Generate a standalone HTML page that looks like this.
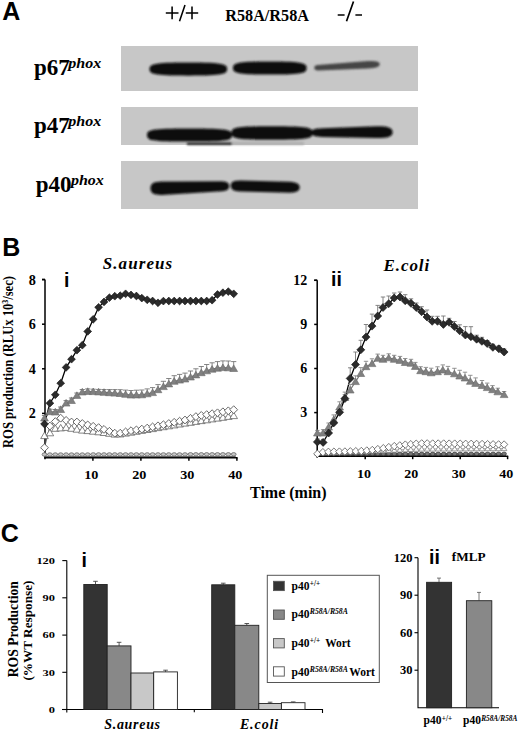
<!DOCTYPE html>
<html><head><meta charset="utf-8"><style>
html,body{margin:0;padding:0;background:#fff;width:520px;height:732px;overflow:hidden}
svg{position:absolute;left:0;top:0;display:block}
</style></head><body>
<svg width="520" height="732" viewBox="0 0 520 732">
<defs><filter id="bl" x="-20%" y="-50%" width="140%" height="200%"><feGaussianBlur stdDeviation="1.3"/></filter><filter id="bl2" x="-20%" y="-50%" width="140%" height="200%"><feGaussianBlur stdDeviation="0.8"/></filter></defs>
<rect x="121" y="46" width="297" height="45" fill="#c7c7c7"/>
<rect x="121" y="107" width="297" height="38" fill="#c7c7c7"/>
<rect x="121" y="161" width="297" height="48" fill="#c7c7c7"/>
<g filter="url(#bl)" fill="#0e0e0e"><path d="M149.5 69.1C149.5 64.3 152.2 62.5 188.3 62.5C224.4 62.5 227.1 64.3 227.1 69.1C227.1 73.9 224.4 75.7 188.3 75.7C152.2 75.7 149.5 73.9 149.5 69.1Z"/><path d="M233.0 68.0C233.0 63.2 235.6 61.4 269.8 61.4C304.0 61.4 306.6 63.2 306.6 68.0C306.6 72.8 304.0 74.6 269.8 74.6C235.6 74.6 233.0 72.8 233.0 68.0Z"/></g>
<g filter="url(#bl2)"><path d="M314.3 67.8 Q314.3 65.3 318 65.1 L368 61.1 Q379.8 60.4 379.8 64.2 Q379.8 67.9 368 68.5 L318 70.5 Q314.3 70.5 314.3 67.8Z" fill="#444"/></g>
<g filter="url(#bl)" fill="#0e0e0e"><path d="M147.0 135.0C147.0 129.7 150.4 128.4 189.5 128.4C228.6 128.4 232.0 129.7 232.0 135.0C232.0 140.3 228.6 141.6 189.5 141.6C150.4 141.6 147.0 140.3 147.0 135.0Z"/><path d="M231.5 133.0C231.5 127.6 234.7 126.3 272.0 126.3C309.3 126.3 312.5 127.6 312.5 133.0C312.5 138.4 309.3 139.7 272.0 139.7C234.7 139.7 231.5 138.4 231.5 133.0Z"/><path d="M311 132.6 C311 129.4 315 128.5 322 128.2 L376 126.3 C388 126 392.6 128 392.6 132.2 C392.6 136.6 388 138.2 376 138.1 L322 136.9 C315 136.7 311 135.8 311 132.6Z"/><rect x="150" y="133" width="40" height="7"/></g>
<g filter="url(#bl2)"><rect x="187" y="142.4" width="45" height="2.6" fill="#2a2a2a"/><rect x="232" y="141.8" width="72" height="3.2" fill="#b0b0b0"/></g>
<g filter="url(#bl)" fill="#0e0e0e"><path d="M150.5 188.3 C150.5 183 154 181.6 162 181.4 L222 181.2 C227.5 181.4 229.2 183.5 229.2 186.2 C229.2 189.3 227 190.8 222 191.3 L162 194.9 C154 195.1 150.5 193.5 150.5 188.3Z"/><path d="M230.8 185.6 C230.8 182 233 180.7 240 180.5 L290 181.8 C297 182.2 299.7 184.5 299.7 187.3 C299.7 190.6 297 192.5 290 192.8 L240 191.6 C233 191.3 230.8 189.2 230.8 185.6Z"/></g>
<text x="2.2" y="19.9" font-family="Liberation Sans" font-size="25" font-weight="bold" font-style="normal" text-anchor="start" >A</text>
<path d="M165.8 13H178.5M172.1 6.5V19.3M185 5L179.5 21.2M185.8 13H198.2M192 6.5V19.3" stroke="#000" stroke-width="1.55" fill="none"/>
<text x="225.3" y="21" font-family="Liberation Serif" font-size="16.2" font-weight="bold" font-style="normal" text-anchor="start" >R58A/R58A</text>
<path d="M337.7 15H344.6M353.5 1.5L346.5 21.2M355.4 15H362" stroke="#000" stroke-width="1.7" fill="none"/>
<text x="34" y="74.6" font-family="Liberation Serif" font-size="23" font-weight="bold">p67</text>
<text x="68.2" y="68.2" font-family="Liberation Serif" font-size="14" font-weight="bold" font-style="italic" textLength="33" lengthAdjust="spacingAndGlyphs">phox</text>
<text x="34" y="132.8" font-family="Liberation Serif" font-size="23" font-weight="bold">p47</text>
<text x="68.2" y="126.2" font-family="Liberation Serif" font-size="14" font-weight="bold" font-style="italic" textLength="33" lengthAdjust="spacingAndGlyphs">phox</text>
<text x="35.8" y="192.4" font-family="Liberation Serif" font-size="23" font-weight="bold">p40</text>
<text x="70.9" y="184.9" font-family="Liberation Serif" font-size="14" font-weight="bold" font-style="italic" textLength="33" lengthAdjust="spacingAndGlyphs">phox</text>
<text x="2.2" y="256.2" font-family="Liberation Sans" font-size="25" font-weight="bold" font-style="normal" text-anchor="start" >B</text>
<path d="M45 279.6V459.3M42 279.6H45" stroke="#000" stroke-width="1.5" fill="none"/>
<path d="M42 279.6H45" stroke="#000" stroke-width="1.5"/>
<text x="35.9" y="284.6" font-family="Liberation Serif" font-size="14.2" font-weight="bold" font-style="normal" text-anchor="end" >8</text>
<path d="M42 324.2H45" stroke="#000" stroke-width="1.5"/>
<text x="35.9" y="329.20000000000005" font-family="Liberation Serif" font-size="14.2" font-weight="bold" font-style="normal" text-anchor="end" >6</text>
<path d="M42 368.8H45" stroke="#000" stroke-width="1.5"/>
<text x="35.9" y="373.8" font-family="Liberation Serif" font-size="14.2" font-weight="bold" font-style="normal" text-anchor="end" >4</text>
<path d="M42 413.4H45" stroke="#000" stroke-width="1.5"/>
<text x="35.9" y="418.40000000000003" font-family="Liberation Serif" font-size="14.2" font-weight="bold" font-style="normal" text-anchor="end" >2</text>
<path d="M44.3 457.8H237.6" stroke="#000" stroke-width="1.5"/>
<path d="M92.9 457.8V460.8" stroke="#000" stroke-width="1.5"/>
<text x="84.2" y="478.9" font-family="Liberation Serif" font-size="12" font-weight="bold" textLength="14.2" lengthAdjust="spacingAndGlyphs">10</text>
<path d="M140.9 457.8V460.8" stroke="#000" stroke-width="1.5"/>
<text x="132.2" y="478.9" font-family="Liberation Serif" font-size="12" font-weight="bold" textLength="14.2" lengthAdjust="spacingAndGlyphs">20</text>
<path d="M188.9 457.8V460.8" stroke="#000" stroke-width="1.5"/>
<text x="180.2" y="478.9" font-family="Liberation Serif" font-size="12" font-weight="bold" textLength="14.2" lengthAdjust="spacingAndGlyphs">30</text>
<path d="M236.9 457.8V460.8" stroke="#000" stroke-width="1.5"/>
<text x="228.2" y="478.9" font-family="Liberation Serif" font-size="12" font-weight="bold" textLength="14.2" lengthAdjust="spacingAndGlyphs">40</text>
<text x="64" y="287.2" font-family="Liberation Sans" font-size="19.5" font-weight="bold" font-style="normal" text-anchor="start" >i</text>
<text x="138" y="268.5" font-family="Liberation Serif" font-size="17" font-weight="bold" font-style="italic" text-anchor="middle" letter-spacing="1.1">S.aureus</text>
<text transform="translate(12.9,448) rotate(-90)" font-family="Liberation Serif" font-size="13.6" font-weight="bold" textLength="172" lengthAdjust="spacingAndGlyphs">ROS production (RLUx 10<tspan font-size="8.5" dy="-4.5">3</tspan><tspan dy="4.5">/sec)</tspan></text>
<path d="M317.2 280.3V457.7M314.2 280.3H317.2" stroke="#000" stroke-width="1.5" fill="none"/>
<path d="M314.2 280.3H317.2" stroke="#000" stroke-width="1.5"/>
<text x="307.3" y="285.1" font-family="Liberation Serif" font-size="14" font-weight="bold" font-style="normal" text-anchor="end" >12</text>
<path d="M314.2 324.4H317.2" stroke="#000" stroke-width="1.5"/>
<text x="307.3" y="329.20000000000005" font-family="Liberation Serif" font-size="14" font-weight="bold" font-style="normal" text-anchor="end" >9</text>
<path d="M314.2 368.5H317.2" stroke="#000" stroke-width="1.5"/>
<text x="307.3" y="373.3" font-family="Liberation Serif" font-size="14" font-weight="bold" font-style="normal" text-anchor="end" >6</text>
<path d="M314.2 412.6H317.2" stroke="#000" stroke-width="1.5"/>
<text x="307.3" y="417.40000000000003" font-family="Liberation Serif" font-size="14" font-weight="bold" font-style="normal" text-anchor="end" >3</text>
<path d="M316.5 456.2H508.2" stroke="#000" stroke-width="1.5"/>
<path d="M365.2 456.2V459.2" stroke="#000" stroke-width="1.5"/>
<text x="356.9" y="477.8" font-family="Liberation Serif" font-size="11.6" font-weight="bold" textLength="14" lengthAdjust="spacingAndGlyphs">10</text>
<path d="M412.7 456.2V459.2" stroke="#000" stroke-width="1.5"/>
<text x="404.3" y="477.8" font-family="Liberation Serif" font-size="11.6" font-weight="bold" textLength="14" lengthAdjust="spacingAndGlyphs">20</text>
<path d="M460.2 456.2V459.2" stroke="#000" stroke-width="1.5"/>
<text x="451.8" y="477.8" font-family="Liberation Serif" font-size="11.6" font-weight="bold" textLength="14" lengthAdjust="spacingAndGlyphs">30</text>
<path d="M507.6 456.2V459.2" stroke="#000" stroke-width="1.5"/>
<text x="499.2" y="477.8" font-family="Liberation Serif" font-size="11.6" font-weight="bold" textLength="14" lengthAdjust="spacingAndGlyphs">40</text>
<text x="331" y="285.8" font-family="Liberation Sans" font-size="19.5" font-weight="bold" font-style="normal" text-anchor="start" >ii</text>
<text x="406.8" y="271.2" font-family="Liberation Serif" font-size="17" font-weight="bold" font-style="italic" text-anchor="middle" letter-spacing="0.9">E.coli</text>
<text x="288.3" y="498" font-family="Liberation Serif" font-size="16" font-weight="bold" font-style="normal" text-anchor="middle" >Time (min)</text>
<polyline points="44.5,456.6 235.7,456.6" fill="none" stroke="#555" stroke-width="1.0" />
<polyline points="44.5,454.5 49.9,454.5 55.3,454.5 60.7,454.5 66.1,454.5 71.5,454.5 76.9,454.5 82.3,454.5 87.7,454.5 93.2,454.4 98.6,454.4 104.0,454.4 109.4,454.4 114.8,454.4 120.2,454.4 125.6,454.4 131.0,454.4 136.4,454.4 141.8,454.4 147.2,454.4 152.6,454.4 158.0,454.4 163.4,454.4 168.8,454.4 174.2,454.4 179.6,454.4 185.0,454.4 190.5,454.3 195.9,454.3 201.3,454.3 206.7,454.3 212.1,454.3 217.5,454.3 222.9,454.3 228.3,454.3 233.7,454.3" fill="none" stroke="#666" stroke-width="0.9" />
<polyline points="44.5,435.7 49.9,432.9 55.3,428.4 60.7,428.0 66.1,427.5 71.5,428.4 76.9,429.3 82.3,430.2 87.7,430.7 93.2,431.3 98.6,431.9 104.0,432.6 109.4,433.4 114.8,434.2 120.2,434.0 125.6,433.2 131.0,432.3 136.4,431.4 141.8,430.5 147.2,429.6 152.6,428.7 158.0,427.7 163.4,426.8 168.8,425.9 174.2,425.0 179.6,424.1 185.0,423.2 190.5,422.4 195.9,421.5 201.3,420.7 206.7,419.9 212.1,419.0 217.5,418.2 222.9,417.4 228.3,416.5 233.7,415.7" fill="none" stroke="#888" stroke-width="0.9" />
<polyline points="44.5,447.7 49.9,426.0 55.3,421.6 60.7,418.2 66.1,420.4 71.5,422.0 76.9,422.0 82.3,423.5 87.7,424.9 93.2,426.3 98.6,427.6 104.0,429.4 109.4,431.3 114.8,433.2 120.2,433.2 125.6,431.9 131.0,430.7 136.4,429.9 141.8,429.1 147.2,428.1 152.6,426.9 158.0,425.8 163.4,424.7 168.8,423.5 174.2,422.3 179.6,421.2 185.0,420.0 190.5,418.3 195.9,416.6 201.3,415.4 206.7,414.6 212.1,413.7 217.5,412.8 222.9,411.8 228.3,410.8 233.7,409.7" fill="none" stroke="#555" stroke-width="0.9" />
<polyline points="44.5,418.0 49.9,411.7 55.3,412.0 60.7,409.5 66.1,403.1 71.5,400.5 76.9,395.5 82.3,392.0 87.7,391.4 93.2,391.7 98.6,391.9 104.0,392.3 109.4,392.7 114.8,393.1 120.2,393.5 125.6,394.3 131.0,395.0 136.4,394.9 141.8,394.8 147.2,393.8 152.6,392.6 158.0,389.8 163.4,386.6 168.8,383.9 174.2,381.3 179.6,380.1 185.0,379.0 190.5,377.0 195.9,374.9 201.3,372.7 206.7,370.8 212.1,369.2 217.5,368.2 222.9,367.6 228.3,367.8 233.7,368.5" fill="none" stroke="#777" stroke-width="1.2" />
<polyline points="44.5,424.0 49.9,403.2 55.3,394.8 60.7,383.2 66.1,367.4 71.5,359.2 76.9,350.2 82.3,345.2 87.7,331.4 93.2,319.3 98.6,307.3 104.0,301.9 109.4,297.7 114.8,296.2 120.2,295.7 125.6,293.8 131.0,294.9 136.4,296.0 141.8,298.1 147.2,299.8 152.6,301.0 158.0,302.8 163.4,301.1 168.8,301.0 174.2,301.0 179.6,301.0 185.0,301.0 190.5,301.0 195.9,301.0 201.3,301.0 206.7,301.0 212.1,300.2 217.5,294.5 222.9,292.7 228.3,291.6 233.7,293.8" fill="none" stroke="#000" stroke-width="1.3" />
<ellipse cx="44.5" cy="454.5" rx="2.4" ry="1.7" fill="#c8c8c8" stroke="#666" stroke-width="0.8"/>
<ellipse cx="49.9" cy="454.5" rx="2.4" ry="1.7" fill="#c8c8c8" stroke="#666" stroke-width="0.8"/>
<ellipse cx="55.3" cy="454.5" rx="2.4" ry="1.7" fill="#c8c8c8" stroke="#666" stroke-width="0.8"/>
<ellipse cx="60.7" cy="454.5" rx="2.4" ry="1.7" fill="#c8c8c8" stroke="#666" stroke-width="0.8"/>
<ellipse cx="66.1" cy="454.5" rx="2.4" ry="1.7" fill="#c8c8c8" stroke="#666" stroke-width="0.8"/>
<ellipse cx="71.5" cy="454.5" rx="2.4" ry="1.7" fill="#c8c8c8" stroke="#666" stroke-width="0.8"/>
<ellipse cx="76.9" cy="454.5" rx="2.4" ry="1.7" fill="#c8c8c8" stroke="#666" stroke-width="0.8"/>
<ellipse cx="82.3" cy="454.5" rx="2.4" ry="1.7" fill="#c8c8c8" stroke="#666" stroke-width="0.8"/>
<ellipse cx="87.7" cy="454.5" rx="2.4" ry="1.7" fill="#c8c8c8" stroke="#666" stroke-width="0.8"/>
<ellipse cx="93.2" cy="454.4" rx="2.4" ry="1.7" fill="#c8c8c8" stroke="#666" stroke-width="0.8"/>
<ellipse cx="98.6" cy="454.4" rx="2.4" ry="1.7" fill="#c8c8c8" stroke="#666" stroke-width="0.8"/>
<ellipse cx="104.0" cy="454.4" rx="2.4" ry="1.7" fill="#c8c8c8" stroke="#666" stroke-width="0.8"/>
<ellipse cx="109.4" cy="454.4" rx="2.4" ry="1.7" fill="#c8c8c8" stroke="#666" stroke-width="0.8"/>
<ellipse cx="114.8" cy="454.4" rx="2.4" ry="1.7" fill="#c8c8c8" stroke="#666" stroke-width="0.8"/>
<ellipse cx="120.2" cy="454.4" rx="2.4" ry="1.7" fill="#c8c8c8" stroke="#666" stroke-width="0.8"/>
<ellipse cx="125.6" cy="454.4" rx="2.4" ry="1.7" fill="#c8c8c8" stroke="#666" stroke-width="0.8"/>
<ellipse cx="131.0" cy="454.4" rx="2.4" ry="1.7" fill="#c8c8c8" stroke="#666" stroke-width="0.8"/>
<ellipse cx="136.4" cy="454.4" rx="2.4" ry="1.7" fill="#c8c8c8" stroke="#666" stroke-width="0.8"/>
<ellipse cx="141.8" cy="454.4" rx="2.4" ry="1.7" fill="#c8c8c8" stroke="#666" stroke-width="0.8"/>
<ellipse cx="147.2" cy="454.4" rx="2.4" ry="1.7" fill="#c8c8c8" stroke="#666" stroke-width="0.8"/>
<ellipse cx="152.6" cy="454.4" rx="2.4" ry="1.7" fill="#c8c8c8" stroke="#666" stroke-width="0.8"/>
<ellipse cx="158.0" cy="454.4" rx="2.4" ry="1.7" fill="#c8c8c8" stroke="#666" stroke-width="0.8"/>
<ellipse cx="163.4" cy="454.4" rx="2.4" ry="1.7" fill="#c8c8c8" stroke="#666" stroke-width="0.8"/>
<ellipse cx="168.8" cy="454.4" rx="2.4" ry="1.7" fill="#c8c8c8" stroke="#666" stroke-width="0.8"/>
<ellipse cx="174.2" cy="454.4" rx="2.4" ry="1.7" fill="#c8c8c8" stroke="#666" stroke-width="0.8"/>
<ellipse cx="179.6" cy="454.4" rx="2.4" ry="1.7" fill="#c8c8c8" stroke="#666" stroke-width="0.8"/>
<ellipse cx="185.0" cy="454.4" rx="2.4" ry="1.7" fill="#c8c8c8" stroke="#666" stroke-width="0.8"/>
<ellipse cx="190.5" cy="454.3" rx="2.4" ry="1.7" fill="#c8c8c8" stroke="#666" stroke-width="0.8"/>
<ellipse cx="195.9" cy="454.3" rx="2.4" ry="1.7" fill="#c8c8c8" stroke="#666" stroke-width="0.8"/>
<ellipse cx="201.3" cy="454.3" rx="2.4" ry="1.7" fill="#c8c8c8" stroke="#666" stroke-width="0.8"/>
<ellipse cx="206.7" cy="454.3" rx="2.4" ry="1.7" fill="#c8c8c8" stroke="#666" stroke-width="0.8"/>
<ellipse cx="212.1" cy="454.3" rx="2.4" ry="1.7" fill="#c8c8c8" stroke="#666" stroke-width="0.8"/>
<ellipse cx="217.5" cy="454.3" rx="2.4" ry="1.7" fill="#c8c8c8" stroke="#666" stroke-width="0.8"/>
<ellipse cx="222.9" cy="454.3" rx="2.4" ry="1.7" fill="#c8c8c8" stroke="#666" stroke-width="0.8"/>
<ellipse cx="228.3" cy="454.3" rx="2.4" ry="1.7" fill="#c8c8c8" stroke="#666" stroke-width="0.8"/>
<ellipse cx="233.7" cy="454.3" rx="2.4" ry="1.7" fill="#c8c8c8" stroke="#666" stroke-width="0.8"/>
<path d="M44.5 432.1L48.3 438.6L40.7 438.6Z" fill="#fff" stroke="#666" stroke-width="0.8"/>
<path d="M49.9 429.4L53.7 435.8L46.1 435.8Z" fill="#fff" stroke="#666" stroke-width="0.8"/>
<path d="M55.3 424.9L59.1 431.3L51.5 431.3Z" fill="#fff" stroke="#666" stroke-width="0.8"/>
<path d="M60.7 424.4L64.5 430.9L56.9 430.9Z" fill="#fff" stroke="#666" stroke-width="0.8"/>
<path d="M66.1 424.0L69.9 430.4L62.3 430.4Z" fill="#fff" stroke="#666" stroke-width="0.8"/>
<path d="M71.5 424.8L75.3 431.3L67.7 431.3Z" fill="#fff" stroke="#666" stroke-width="0.8"/>
<path d="M76.9 425.7L80.7 432.2L73.1 432.2Z" fill="#fff" stroke="#666" stroke-width="0.8"/>
<path d="M82.3 426.6L86.1 433.1L78.5 433.1Z" fill="#fff" stroke="#666" stroke-width="0.8"/>
<path d="M87.7 427.2L91.5 433.6L83.9 433.6Z" fill="#fff" stroke="#666" stroke-width="0.8"/>
<path d="M93.2 427.7L97.0 434.2L89.4 434.2Z" fill="#fff" stroke="#666" stroke-width="0.8"/>
<path d="M98.6 428.3L102.4 434.8L94.8 434.8Z" fill="#fff" stroke="#666" stroke-width="0.8"/>
<path d="M104.0 429.0L107.8 435.5L100.2 435.5Z" fill="#fff" stroke="#666" stroke-width="0.8"/>
<path d="M109.4 429.8L113.2 436.3L105.6 436.3Z" fill="#fff" stroke="#666" stroke-width="0.8"/>
<path d="M114.8 430.6L118.6 437.1L111.0 437.1Z" fill="#fff" stroke="#666" stroke-width="0.8"/>
<path d="M120.2 430.5L124.0 436.9L116.4 436.9Z" fill="#fff" stroke="#666" stroke-width="0.8"/>
<path d="M125.6 429.6L129.4 436.1L121.8 436.1Z" fill="#fff" stroke="#666" stroke-width="0.8"/>
<path d="M131.0 428.8L134.8 435.2L127.2 435.2Z" fill="#fff" stroke="#666" stroke-width="0.8"/>
<path d="M136.4 427.9L140.2 434.3L132.6 434.3Z" fill="#fff" stroke="#666" stroke-width="0.8"/>
<path d="M141.8 426.9L145.6 433.4L138.0 433.4Z" fill="#fff" stroke="#666" stroke-width="0.8"/>
<path d="M147.2 426.0L151.0 432.5L143.4 432.5Z" fill="#fff" stroke="#666" stroke-width="0.8"/>
<path d="M152.6 425.1L156.4 431.6L148.8 431.6Z" fill="#fff" stroke="#666" stroke-width="0.8"/>
<path d="M158.0 424.2L161.8 430.6L154.2 430.6Z" fill="#fff" stroke="#666" stroke-width="0.8"/>
<path d="M163.4 423.3L167.2 429.7L159.6 429.7Z" fill="#fff" stroke="#666" stroke-width="0.8"/>
<path d="M168.8 422.4L172.6 428.8L165.0 428.8Z" fill="#fff" stroke="#666" stroke-width="0.8"/>
<path d="M174.2 421.4L178.0 427.9L170.4 427.9Z" fill="#fff" stroke="#666" stroke-width="0.8"/>
<path d="M179.6 420.5L183.4 427.0L175.8 427.0Z" fill="#fff" stroke="#666" stroke-width="0.8"/>
<path d="M185.0 419.6L188.8 426.1L181.2 426.1Z" fill="#fff" stroke="#666" stroke-width="0.8"/>
<path d="M190.5 418.8L194.3 425.3L186.7 425.3Z" fill="#fff" stroke="#666" stroke-width="0.8"/>
<path d="M195.9 418.0L199.7 424.4L192.1 424.4Z" fill="#fff" stroke="#666" stroke-width="0.8"/>
<path d="M201.3 417.1L205.1 423.6L197.5 423.6Z" fill="#fff" stroke="#666" stroke-width="0.8"/>
<path d="M206.7 416.3L210.5 422.8L202.9 422.8Z" fill="#fff" stroke="#666" stroke-width="0.8"/>
<path d="M212.1 415.5L215.9 421.9L208.3 421.9Z" fill="#fff" stroke="#666" stroke-width="0.8"/>
<path d="M217.5 414.6L221.3 421.1L213.7 421.1Z" fill="#fff" stroke="#666" stroke-width="0.8"/>
<path d="M222.9 413.8L226.7 420.3L219.1 420.3Z" fill="#fff" stroke="#666" stroke-width="0.8"/>
<path d="M228.3 413.0L232.1 419.4L224.5 419.4Z" fill="#fff" stroke="#666" stroke-width="0.8"/>
<path d="M233.7 412.1L237.5 418.6L229.9 418.6Z" fill="#fff" stroke="#666" stroke-width="0.8"/>
<path d="M44.5 443.8L48.4 447.7L44.5 451.6L40.6 447.7Z" fill="#fff" stroke="#444" stroke-width="0.8"/>
<path d="M49.9 422.1L53.8 426.0L49.9 429.9L46.0 426.0Z" fill="#fff" stroke="#444" stroke-width="0.8"/>
<path d="M55.3 417.7L59.2 421.6L55.3 425.5L51.4 421.6Z" fill="#fff" stroke="#444" stroke-width="0.8"/>
<path d="M60.7 414.3L64.6 418.2L60.7 422.1L56.8 418.2Z" fill="#fff" stroke="#444" stroke-width="0.8"/>
<path d="M66.1 416.5L70.0 420.4L66.1 424.3L62.2 420.4Z" fill="#fff" stroke="#444" stroke-width="0.8"/>
<path d="M71.5 418.1L75.4 422.0L71.5 425.9L67.6 422.0Z" fill="#fff" stroke="#444" stroke-width="0.8"/>
<path d="M76.9 418.1L80.8 422.0L76.9 425.9L73.0 422.0Z" fill="#fff" stroke="#444" stroke-width="0.8"/>
<path d="M82.3 419.6L86.2 423.5L82.3 427.4L78.4 423.5Z" fill="#fff" stroke="#444" stroke-width="0.8"/>
<path d="M87.7 421.0L91.6 424.9L87.7 428.8L83.8 424.9Z" fill="#fff" stroke="#444" stroke-width="0.8"/>
<path d="M93.2 422.4L97.1 426.3L93.2 430.2L89.3 426.3Z" fill="#fff" stroke="#444" stroke-width="0.8"/>
<path d="M98.6 423.7L102.5 427.6L98.6 431.5L94.7 427.6Z" fill="#fff" stroke="#444" stroke-width="0.8"/>
<path d="M104.0 425.5L107.9 429.4L104.0 433.3L100.1 429.4Z" fill="#fff" stroke="#444" stroke-width="0.8"/>
<path d="M109.4 427.4L113.3 431.3L109.4 435.2L105.5 431.3Z" fill="#fff" stroke="#444" stroke-width="0.8"/>
<path d="M114.8 429.3L118.7 433.2L114.8 437.1L110.9 433.2Z" fill="#fff" stroke="#444" stroke-width="0.8"/>
<path d="M120.2 429.3L124.1 433.2L120.2 437.1L116.3 433.2Z" fill="#fff" stroke="#444" stroke-width="0.8"/>
<path d="M125.6 428.0L129.5 431.9L125.6 435.8L121.7 431.9Z" fill="#fff" stroke="#444" stroke-width="0.8"/>
<path d="M131.0 426.8L134.9 430.7L131.0 434.6L127.1 430.7Z" fill="#fff" stroke="#444" stroke-width="0.8"/>
<path d="M136.4 426.0L140.3 429.9L136.4 433.8L132.5 429.9Z" fill="#fff" stroke="#444" stroke-width="0.8"/>
<path d="M141.8 425.2L145.7 429.1L141.8 433.0L137.9 429.1Z" fill="#fff" stroke="#444" stroke-width="0.8"/>
<path d="M147.2 424.2L151.1 428.1L147.2 432.0L143.3 428.1Z" fill="#fff" stroke="#444" stroke-width="0.8"/>
<path d="M152.6 423.0L156.5 426.9L152.6 430.8L148.7 426.9Z" fill="#fff" stroke="#444" stroke-width="0.8"/>
<path d="M158.0 421.9L161.9 425.8L158.0 429.7L154.1 425.8Z" fill="#fff" stroke="#444" stroke-width="0.8"/>
<path d="M163.4 420.8L167.3 424.7L163.4 428.6L159.5 424.7Z" fill="#fff" stroke="#444" stroke-width="0.8"/>
<path d="M168.8 419.6L172.7 423.5L168.8 427.4L164.9 423.5Z" fill="#fff" stroke="#444" stroke-width="0.8"/>
<path d="M174.2 418.4L178.1 422.3L174.2 426.2L170.3 422.3Z" fill="#fff" stroke="#444" stroke-width="0.8"/>
<path d="M179.6 417.3L183.5 421.2L179.6 425.1L175.7 421.2Z" fill="#fff" stroke="#444" stroke-width="0.8"/>
<path d="M185.0 416.1L188.9 420.0L185.0 423.9L181.1 420.0Z" fill="#fff" stroke="#444" stroke-width="0.8"/>
<path d="M190.5 414.4L194.4 418.3L190.5 422.2L186.6 418.3Z" fill="#fff" stroke="#444" stroke-width="0.8"/>
<path d="M195.9 412.7L199.8 416.6L195.9 420.5L192.0 416.6Z" fill="#fff" stroke="#444" stroke-width="0.8"/>
<path d="M201.3 411.5L205.2 415.4L201.3 419.3L197.4 415.4Z" fill="#fff" stroke="#444" stroke-width="0.8"/>
<path d="M206.7 410.7L210.6 414.6L206.7 418.5L202.8 414.6Z" fill="#fff" stroke="#444" stroke-width="0.8"/>
<path d="M212.1 409.8L216.0 413.7L212.1 417.6L208.2 413.7Z" fill="#fff" stroke="#444" stroke-width="0.8"/>
<path d="M217.5 408.9L221.4 412.8L217.5 416.7L213.6 412.8Z" fill="#fff" stroke="#444" stroke-width="0.8"/>
<path d="M222.9 407.9L226.8 411.8L222.9 415.7L219.0 411.8Z" fill="#fff" stroke="#444" stroke-width="0.8"/>
<path d="M228.3 406.9L232.2 410.8L228.3 414.7L224.4 410.8Z" fill="#fff" stroke="#444" stroke-width="0.8"/>
<path d="M233.7 405.8L237.6 409.7L233.7 413.6L229.8 409.7Z" fill="#fff" stroke="#444" stroke-width="0.8"/>
<path d="M44.5 417.0V415.5M41.9 415.5H47.1" stroke="#777" stroke-width="0.9" fill="none"/>
<path d="M49.9 410.7V409.2M47.3 409.2H52.5" stroke="#777" stroke-width="0.9" fill="none"/>
<path d="M55.3 411.0V409.5M52.7 409.5H57.9" stroke="#777" stroke-width="0.9" fill="none"/>
<path d="M60.7 408.5V407.0M58.1 407.0H63.3" stroke="#777" stroke-width="0.9" fill="none"/>
<path d="M66.1 402.1V400.6M63.5 400.6H68.7" stroke="#777" stroke-width="0.9" fill="none"/>
<path d="M71.5 399.5V398.0M68.9 398.0H74.1" stroke="#777" stroke-width="0.9" fill="none"/>
<path d="M76.9 394.5V393.0M74.3 393.0H79.5" stroke="#777" stroke-width="0.9" fill="none"/>
<path d="M82.3 391.0V389.5M79.7 389.5H84.9" stroke="#777" stroke-width="0.9" fill="none"/>
<path d="M87.7 390.4V388.9M85.1 388.9H90.3" stroke="#777" stroke-width="0.9" fill="none"/>
<path d="M93.2 390.7V389.2M90.6 389.2H95.8" stroke="#777" stroke-width="0.9" fill="none"/>
<path d="M98.6 390.9V389.4M96.0 389.4H101.2" stroke="#777" stroke-width="0.9" fill="none"/>
<path d="M104.0 391.3V389.5M101.4 389.5H106.6" stroke="#777" stroke-width="0.9" fill="none"/>
<path d="M109.4 391.7V389.6M106.8 389.6H112.0" stroke="#777" stroke-width="0.9" fill="none"/>
<path d="M114.8 392.1V389.6M112.2 389.6H117.4" stroke="#777" stroke-width="0.9" fill="none"/>
<path d="M120.2 392.5V389.7M117.6 389.7H122.8" stroke="#777" stroke-width="0.9" fill="none"/>
<path d="M125.6 393.3V390.1M123.0 390.1H128.2" stroke="#777" stroke-width="0.9" fill="none"/>
<path d="M131.0 394.0V390.5M128.4 390.5H133.6" stroke="#777" stroke-width="0.9" fill="none"/>
<path d="M136.4 393.9V390.2M133.8 390.2H139.0" stroke="#777" stroke-width="0.9" fill="none"/>
<path d="M141.8 393.8V390.0M139.2 390.0H144.4" stroke="#777" stroke-width="0.9" fill="none"/>
<path d="M147.2 392.8V388.9M144.6 388.9H149.8" stroke="#777" stroke-width="0.9" fill="none"/>
<path d="M152.6 391.6V387.6M150.0 387.6H155.2" stroke="#777" stroke-width="0.9" fill="none"/>
<path d="M158.0 388.8V384.6M155.4 384.6H160.6" stroke="#777" stroke-width="0.9" fill="none"/>
<path d="M163.4 385.6V381.3M160.8 381.3H166.0" stroke="#777" stroke-width="0.9" fill="none"/>
<path d="M168.8 382.9V378.5M166.2 378.5H171.4" stroke="#777" stroke-width="0.9" fill="none"/>
<path d="M174.2 380.3V375.7M171.6 375.7H176.8" stroke="#777" stroke-width="0.9" fill="none"/>
<path d="M179.6 379.1V374.4M177.0 374.4H182.2" stroke="#777" stroke-width="0.9" fill="none"/>
<path d="M185.0 378.0V373.1M182.4 373.1H187.6" stroke="#777" stroke-width="0.9" fill="none"/>
<path d="M190.5 376.0V371.0M187.9 371.0H193.1" stroke="#777" stroke-width="0.9" fill="none"/>
<path d="M195.9 373.9V368.8M193.3 368.8H198.5" stroke="#777" stroke-width="0.9" fill="none"/>
<path d="M201.3 371.7V366.5M198.7 366.5H203.9" stroke="#777" stroke-width="0.9" fill="none"/>
<path d="M206.7 369.8V364.5M204.1 364.5H209.3" stroke="#777" stroke-width="0.9" fill="none"/>
<path d="M212.1 368.2V362.8M209.5 362.8H214.7" stroke="#777" stroke-width="0.9" fill="none"/>
<path d="M217.5 367.2V361.6M214.9 361.6H220.1" stroke="#777" stroke-width="0.9" fill="none"/>
<path d="M222.9 366.6V360.9M220.3 360.9H225.5" stroke="#777" stroke-width="0.9" fill="none"/>
<path d="M228.3 366.8V361.0M225.7 361.0H230.9" stroke="#777" stroke-width="0.9" fill="none"/>
<path d="M233.7 367.5V361.6M231.1 361.6H236.3" stroke="#777" stroke-width="0.9" fill="none"/>
<path d="M44.5 414.4L48.4 421.0L40.6 421.0Z" fill="#808080" stroke="#6a6a6a" stroke-width="0.6"/>
<path d="M49.9 408.1L53.8 414.7L46.0 414.7Z" fill="#808080" stroke="#6a6a6a" stroke-width="0.6"/>
<path d="M55.3 408.3L59.2 415.0L51.4 415.0Z" fill="#808080" stroke="#6a6a6a" stroke-width="0.6"/>
<path d="M60.7 405.8L64.6 412.5L56.8 412.5Z" fill="#808080" stroke="#6a6a6a" stroke-width="0.6"/>
<path d="M66.1 399.4L70.0 406.1L62.2 406.1Z" fill="#808080" stroke="#6a6a6a" stroke-width="0.6"/>
<path d="M71.5 396.9L75.4 403.5L67.6 403.5Z" fill="#808080" stroke="#6a6a6a" stroke-width="0.6"/>
<path d="M76.9 391.8L80.8 398.4L73.0 398.4Z" fill="#808080" stroke="#6a6a6a" stroke-width="0.6"/>
<path d="M82.3 388.3L86.2 395.0L78.4 395.0Z" fill="#808080" stroke="#6a6a6a" stroke-width="0.6"/>
<path d="M87.7 387.8L91.6 394.4L83.8 394.4Z" fill="#808080" stroke="#6a6a6a" stroke-width="0.6"/>
<path d="M93.2 388.0L97.1 394.6L89.3 394.6Z" fill="#808080" stroke="#6a6a6a" stroke-width="0.6"/>
<path d="M98.6 388.3L102.5 394.9L94.7 394.9Z" fill="#808080" stroke="#6a6a6a" stroke-width="0.6"/>
<path d="M104.0 388.7L107.9 395.3L100.1 395.3Z" fill="#808080" stroke="#6a6a6a" stroke-width="0.6"/>
<path d="M109.4 389.1L113.3 395.7L105.5 395.7Z" fill="#808080" stroke="#6a6a6a" stroke-width="0.6"/>
<path d="M114.8 389.5L118.7 396.1L110.9 396.1Z" fill="#808080" stroke="#6a6a6a" stroke-width="0.6"/>
<path d="M120.2 389.9L124.1 396.5L116.3 396.5Z" fill="#808080" stroke="#6a6a6a" stroke-width="0.6"/>
<path d="M125.6 390.7L129.5 397.3L121.7 397.3Z" fill="#808080" stroke="#6a6a6a" stroke-width="0.6"/>
<path d="M131.0 391.3L134.9 398.0L127.1 398.0Z" fill="#808080" stroke="#6a6a6a" stroke-width="0.6"/>
<path d="M136.4 391.3L140.3 397.9L132.5 397.9Z" fill="#808080" stroke="#6a6a6a" stroke-width="0.6"/>
<path d="M141.8 391.2L145.7 397.8L137.9 397.8Z" fill="#808080" stroke="#6a6a6a" stroke-width="0.6"/>
<path d="M147.2 390.2L151.1 396.8L143.3 396.8Z" fill="#808080" stroke="#6a6a6a" stroke-width="0.6"/>
<path d="M152.6 389.0L156.5 395.6L148.7 395.6Z" fill="#808080" stroke="#6a6a6a" stroke-width="0.6"/>
<path d="M158.0 386.1L161.9 392.7L154.1 392.7Z" fill="#808080" stroke="#6a6a6a" stroke-width="0.6"/>
<path d="M163.4 383.0L167.3 389.6L159.5 389.6Z" fill="#808080" stroke="#6a6a6a" stroke-width="0.6"/>
<path d="M168.8 380.3L172.7 386.9L164.9 386.9Z" fill="#808080" stroke="#6a6a6a" stroke-width="0.6"/>
<path d="M174.2 377.6L178.1 384.3L170.3 384.3Z" fill="#808080" stroke="#6a6a6a" stroke-width="0.6"/>
<path d="M179.6 376.5L183.5 383.1L175.7 383.1Z" fill="#808080" stroke="#6a6a6a" stroke-width="0.6"/>
<path d="M185.0 375.3L188.9 382.0L181.1 382.0Z" fill="#808080" stroke="#6a6a6a" stroke-width="0.6"/>
<path d="M190.5 373.4L194.4 380.0L186.6 380.0Z" fill="#808080" stroke="#6a6a6a" stroke-width="0.6"/>
<path d="M195.9 371.3L199.8 377.9L192.0 377.9Z" fill="#808080" stroke="#6a6a6a" stroke-width="0.6"/>
<path d="M201.3 369.1L205.2 375.7L197.4 375.7Z" fill="#808080" stroke="#6a6a6a" stroke-width="0.6"/>
<path d="M206.7 367.2L210.6 373.8L202.8 373.8Z" fill="#808080" stroke="#6a6a6a" stroke-width="0.6"/>
<path d="M212.1 365.6L216.0 372.2L208.2 372.2Z" fill="#808080" stroke="#6a6a6a" stroke-width="0.6"/>
<path d="M217.5 364.6L221.4 371.2L213.6 371.2Z" fill="#808080" stroke="#6a6a6a" stroke-width="0.6"/>
<path d="M222.9 364.0L226.8 370.6L219.0 370.6Z" fill="#808080" stroke="#6a6a6a" stroke-width="0.6"/>
<path d="M228.3 364.2L232.2 370.8L224.4 370.8Z" fill="#808080" stroke="#6a6a6a" stroke-width="0.6"/>
<path d="M233.7 364.9L237.6 371.5L229.8 371.5Z" fill="#808080" stroke="#6a6a6a" stroke-width="0.6"/>
<path d="M44.5 420.1L48.4 424.0L44.5 427.9L40.6 424.0Z" fill="#2b2b2b" stroke="#111" stroke-width="0.6"/>
<path d="M49.9 399.3L53.8 403.2L49.9 407.1L46.0 403.2Z" fill="#2b2b2b" stroke="#111" stroke-width="0.6"/>
<path d="M55.3 390.9L59.2 394.8L55.3 398.7L51.4 394.8Z" fill="#2b2b2b" stroke="#111" stroke-width="0.6"/>
<path d="M60.7 379.3L64.6 383.2L60.7 387.1L56.8 383.2Z" fill="#2b2b2b" stroke="#111" stroke-width="0.6"/>
<path d="M66.1 363.5L70.0 367.4L66.1 371.3L62.2 367.4Z" fill="#2b2b2b" stroke="#111" stroke-width="0.6"/>
<path d="M71.5 355.3L75.4 359.2L71.5 363.1L67.6 359.2Z" fill="#2b2b2b" stroke="#111" stroke-width="0.6"/>
<path d="M76.9 346.3L80.8 350.2L76.9 354.1L73.0 350.2Z" fill="#2b2b2b" stroke="#111" stroke-width="0.6"/>
<path d="M82.3 341.3L86.2 345.2L82.3 349.1L78.4 345.2Z" fill="#2b2b2b" stroke="#111" stroke-width="0.6"/>
<path d="M87.7 327.5L91.6 331.4L87.7 335.3L83.8 331.4Z" fill="#2b2b2b" stroke="#111" stroke-width="0.6"/>
<path d="M93.2 315.4L97.1 319.3L93.2 323.2L89.3 319.3Z" fill="#2b2b2b" stroke="#111" stroke-width="0.6"/>
<path d="M98.6 303.4L102.5 307.3L98.6 311.2L94.7 307.3Z" fill="#2b2b2b" stroke="#111" stroke-width="0.6"/>
<path d="M104.0 298.0L107.9 301.9L104.0 305.8L100.1 301.9Z" fill="#2b2b2b" stroke="#111" stroke-width="0.6"/>
<path d="M109.4 293.8L113.3 297.7L109.4 301.6L105.5 297.7Z" fill="#2b2b2b" stroke="#111" stroke-width="0.6"/>
<path d="M114.8 292.3L118.7 296.2L114.8 300.1L110.9 296.2Z" fill="#2b2b2b" stroke="#111" stroke-width="0.6"/>
<path d="M120.2 291.8L124.1 295.7L120.2 299.6L116.3 295.7Z" fill="#2b2b2b" stroke="#111" stroke-width="0.6"/>
<path d="M125.6 289.9L129.5 293.8L125.6 297.7L121.7 293.8Z" fill="#2b2b2b" stroke="#111" stroke-width="0.6"/>
<path d="M131.0 291.0L134.9 294.9L131.0 298.8L127.1 294.9Z" fill="#2b2b2b" stroke="#111" stroke-width="0.6"/>
<path d="M136.4 292.1L140.3 296.0L136.4 299.9L132.5 296.0Z" fill="#2b2b2b" stroke="#111" stroke-width="0.6"/>
<path d="M141.8 294.2L145.7 298.1L141.8 302.0L137.9 298.1Z" fill="#2b2b2b" stroke="#111" stroke-width="0.6"/>
<path d="M147.2 295.9L151.1 299.8L147.2 303.7L143.3 299.8Z" fill="#2b2b2b" stroke="#111" stroke-width="0.6"/>
<path d="M152.6 297.1L156.5 301.0L152.6 304.9L148.7 301.0Z" fill="#2b2b2b" stroke="#111" stroke-width="0.6"/>
<path d="M158.0 298.9L161.9 302.8L158.0 306.7L154.1 302.8Z" fill="#2b2b2b" stroke="#111" stroke-width="0.6"/>
<path d="M163.4 297.2L167.3 301.1L163.4 305.0L159.5 301.1Z" fill="#2b2b2b" stroke="#111" stroke-width="0.6"/>
<path d="M168.8 297.1L172.7 301.0L168.8 304.9L164.9 301.0Z" fill="#2b2b2b" stroke="#111" stroke-width="0.6"/>
<path d="M174.2 297.1L178.1 301.0L174.2 304.9L170.3 301.0Z" fill="#2b2b2b" stroke="#111" stroke-width="0.6"/>
<path d="M179.6 297.1L183.5 301.0L179.6 304.9L175.7 301.0Z" fill="#2b2b2b" stroke="#111" stroke-width="0.6"/>
<path d="M185.0 297.1L188.9 301.0L185.0 304.9L181.1 301.0Z" fill="#2b2b2b" stroke="#111" stroke-width="0.6"/>
<path d="M190.5 297.1L194.4 301.0L190.5 304.9L186.6 301.0Z" fill="#2b2b2b" stroke="#111" stroke-width="0.6"/>
<path d="M195.9 297.1L199.8 301.0L195.9 304.9L192.0 301.0Z" fill="#2b2b2b" stroke="#111" stroke-width="0.6"/>
<path d="M201.3 297.1L205.2 301.0L201.3 304.9L197.4 301.0Z" fill="#2b2b2b" stroke="#111" stroke-width="0.6"/>
<path d="M206.7 297.1L210.6 301.0L206.7 304.9L202.8 301.0Z" fill="#2b2b2b" stroke="#111" stroke-width="0.6"/>
<path d="M212.1 296.3L216.0 300.2L212.1 304.1L208.2 300.2Z" fill="#2b2b2b" stroke="#111" stroke-width="0.6"/>
<path d="M217.5 290.6L221.4 294.5L217.5 298.4L213.6 294.5Z" fill="#2b2b2b" stroke="#111" stroke-width="0.6"/>
<path d="M222.9 288.8L226.8 292.7L222.9 296.6L219.0 292.7Z" fill="#2b2b2b" stroke="#111" stroke-width="0.6"/>
<path d="M228.3 287.7L232.2 291.6L228.3 295.5L224.4 291.6Z" fill="#2b2b2b" stroke="#111" stroke-width="0.6"/>
<path d="M233.7 289.9L237.6 293.8L233.7 297.7L229.8 293.8Z" fill="#2b2b2b" stroke="#111" stroke-width="0.6"/>
<polyline points="317.2,455.2 506.0,455.2" fill="none" stroke="#333" stroke-width="1.5" />
<polyline points="317.4,454.0 322.9,454.0 328.4,454.0 333.9,454.0 339.4,454.0 344.9,454.0 350.3,454.0 355.8,454.0 361.3,454.0 366.8,453.9 372.3,453.9 377.8,453.9 383.3,453.9 388.8,453.9 394.3,453.9 399.8,453.9 405.3,453.9 410.8,453.9 416.2,453.9 421.7,453.9 427.2,453.9 432.7,453.9 438.2,453.9 443.7,453.9 449.2,453.9 454.7,453.9 460.2,453.8 465.7,453.8 471.2,453.8 476.6,453.8 482.1,453.8 487.6,453.8 493.1,453.8 498.6,453.8 504.1,453.8" fill="none" stroke="#333" stroke-width="1.2" />
<polyline points="317.4,453.0 322.9,452.8 328.4,452.6 333.9,452.4 339.4,452.2 344.9,452.0 350.3,451.8 355.8,451.6 361.3,451.4 366.8,451.2 372.3,451.0 377.8,450.8 383.3,450.5 388.8,450.3 394.3,450.1 399.8,449.8 405.3,449.6 410.8,449.4 416.2,449.2 421.7,449.0 427.2,449.0 432.7,448.9 438.2,448.9 443.7,448.9 449.2,448.8 454.7,448.8 460.2,448.8 465.7,448.7 471.2,448.7 476.6,448.7 482.1,448.6 487.6,448.6 493.1,448.6 498.6,448.5 504.1,448.5" fill="none" stroke="#999" stroke-width="0.8" />
<polyline points="317.4,453.8 322.9,452.2 328.4,451.8 333.9,451.7 339.4,451.6 344.9,451.5 350.3,451.3 355.8,451.2 361.3,451.0 366.8,450.5 372.3,450.0 377.8,449.1 383.3,448.2 388.8,447.1 394.3,446.1 399.8,445.4 405.3,444.6 410.8,444.2 416.2,443.7 421.7,443.4 427.2,443.4 432.7,443.5 438.2,443.5 443.7,443.5 449.2,443.6 454.7,443.6 460.2,443.7 465.7,443.8 471.2,443.8 476.6,443.9 482.1,444.0 487.6,444.2 493.1,444.3 498.6,444.4 504.1,444.5" fill="none" stroke="#666" stroke-width="0.9" />
<ellipse cx="317.4" cy="454.0" rx="2.3" ry="1.8" fill="#777" stroke="#333" stroke-width="0.7"/>
<ellipse cx="322.9" cy="454.0" rx="2.3" ry="1.8" fill="#777" stroke="#333" stroke-width="0.7"/>
<ellipse cx="328.4" cy="454.0" rx="2.3" ry="1.8" fill="#777" stroke="#333" stroke-width="0.7"/>
<ellipse cx="333.9" cy="454.0" rx="2.3" ry="1.8" fill="#777" stroke="#333" stroke-width="0.7"/>
<ellipse cx="339.4" cy="454.0" rx="2.3" ry="1.8" fill="#777" stroke="#333" stroke-width="0.7"/>
<ellipse cx="344.9" cy="454.0" rx="2.3" ry="1.8" fill="#777" stroke="#333" stroke-width="0.7"/>
<ellipse cx="350.3" cy="454.0" rx="2.3" ry="1.8" fill="#777" stroke="#333" stroke-width="0.7"/>
<ellipse cx="355.8" cy="454.0" rx="2.3" ry="1.8" fill="#777" stroke="#333" stroke-width="0.7"/>
<ellipse cx="361.3" cy="454.0" rx="2.3" ry="1.8" fill="#777" stroke="#333" stroke-width="0.7"/>
<ellipse cx="366.8" cy="453.9" rx="2.3" ry="1.8" fill="#777" stroke="#333" stroke-width="0.7"/>
<ellipse cx="372.3" cy="453.9" rx="2.3" ry="1.8" fill="#777" stroke="#333" stroke-width="0.7"/>
<ellipse cx="377.8" cy="453.9" rx="2.3" ry="1.8" fill="#777" stroke="#333" stroke-width="0.7"/>
<ellipse cx="383.3" cy="453.9" rx="2.3" ry="1.8" fill="#777" stroke="#333" stroke-width="0.7"/>
<ellipse cx="388.8" cy="453.9" rx="2.3" ry="1.8" fill="#777" stroke="#333" stroke-width="0.7"/>
<ellipse cx="394.3" cy="453.9" rx="2.3" ry="1.8" fill="#777" stroke="#333" stroke-width="0.7"/>
<ellipse cx="399.8" cy="453.9" rx="2.3" ry="1.8" fill="#777" stroke="#333" stroke-width="0.7"/>
<ellipse cx="405.3" cy="453.9" rx="2.3" ry="1.8" fill="#777" stroke="#333" stroke-width="0.7"/>
<ellipse cx="410.8" cy="453.9" rx="2.3" ry="1.8" fill="#777" stroke="#333" stroke-width="0.7"/>
<ellipse cx="416.2" cy="453.9" rx="2.3" ry="1.8" fill="#777" stroke="#333" stroke-width="0.7"/>
<ellipse cx="421.7" cy="453.9" rx="2.3" ry="1.8" fill="#777" stroke="#333" stroke-width="0.7"/>
<ellipse cx="427.2" cy="453.9" rx="2.3" ry="1.8" fill="#777" stroke="#333" stroke-width="0.7"/>
<ellipse cx="432.7" cy="453.9" rx="2.3" ry="1.8" fill="#777" stroke="#333" stroke-width="0.7"/>
<ellipse cx="438.2" cy="453.9" rx="2.3" ry="1.8" fill="#777" stroke="#333" stroke-width="0.7"/>
<ellipse cx="443.7" cy="453.9" rx="2.3" ry="1.8" fill="#777" stroke="#333" stroke-width="0.7"/>
<ellipse cx="449.2" cy="453.9" rx="2.3" ry="1.8" fill="#777" stroke="#333" stroke-width="0.7"/>
<ellipse cx="454.7" cy="453.9" rx="2.3" ry="1.8" fill="#777" stroke="#333" stroke-width="0.7"/>
<ellipse cx="460.2" cy="453.8" rx="2.3" ry="1.8" fill="#777" stroke="#333" stroke-width="0.7"/>
<ellipse cx="465.7" cy="453.8" rx="2.3" ry="1.8" fill="#777" stroke="#333" stroke-width="0.7"/>
<ellipse cx="471.2" cy="453.8" rx="2.3" ry="1.8" fill="#777" stroke="#333" stroke-width="0.7"/>
<ellipse cx="476.6" cy="453.8" rx="2.3" ry="1.8" fill="#777" stroke="#333" stroke-width="0.7"/>
<ellipse cx="482.1" cy="453.8" rx="2.3" ry="1.8" fill="#777" stroke="#333" stroke-width="0.7"/>
<ellipse cx="487.6" cy="453.8" rx="2.3" ry="1.8" fill="#777" stroke="#333" stroke-width="0.7"/>
<ellipse cx="493.1" cy="453.8" rx="2.3" ry="1.8" fill="#777" stroke="#333" stroke-width="0.7"/>
<ellipse cx="498.6" cy="453.8" rx="2.3" ry="1.8" fill="#777" stroke="#333" stroke-width="0.7"/>
<ellipse cx="504.1" cy="453.8" rx="2.3" ry="1.8" fill="#777" stroke="#333" stroke-width="0.7"/>
<path d="M317.4 450.4L320.2 455.1L314.6 455.1Z" fill="#fff" stroke="#777" stroke-width="0.7"/>
<path d="M322.9 450.2L325.7 454.9L320.1 454.9Z" fill="#fff" stroke="#777" stroke-width="0.7"/>
<path d="M328.4 450.0L331.2 454.8L325.6 454.8Z" fill="#fff" stroke="#777" stroke-width="0.7"/>
<path d="M333.9 449.8L336.7 454.6L331.1 454.6Z" fill="#fff" stroke="#777" stroke-width="0.7"/>
<path d="M339.4 449.6L342.2 454.4L336.6 454.4Z" fill="#fff" stroke="#777" stroke-width="0.7"/>
<path d="M344.9 449.4L347.7 454.2L342.1 454.2Z" fill="#fff" stroke="#777" stroke-width="0.7"/>
<path d="M350.3 449.2L353.1 454.0L347.5 454.0Z" fill="#fff" stroke="#777" stroke-width="0.7"/>
<path d="M355.8 449.0L358.6 453.8L353.0 453.8Z" fill="#fff" stroke="#777" stroke-width="0.7"/>
<path d="M361.3 448.8L364.1 453.6L358.5 453.6Z" fill="#fff" stroke="#777" stroke-width="0.7"/>
<path d="M366.8 448.6L369.6 453.4L364.0 453.4Z" fill="#fff" stroke="#777" stroke-width="0.7"/>
<path d="M372.3 448.4L375.1 453.1L369.5 453.1Z" fill="#fff" stroke="#777" stroke-width="0.7"/>
<path d="M377.8 448.1L380.6 452.9L375.0 452.9Z" fill="#fff" stroke="#777" stroke-width="0.7"/>
<path d="M383.3 447.9L386.1 452.7L380.5 452.7Z" fill="#fff" stroke="#777" stroke-width="0.7"/>
<path d="M388.8 447.7L391.6 452.4L386.0 452.4Z" fill="#fff" stroke="#777" stroke-width="0.7"/>
<path d="M394.3 447.5L397.1 452.2L391.5 452.2Z" fill="#fff" stroke="#777" stroke-width="0.7"/>
<path d="M399.8 447.2L402.6 452.0L397.0 452.0Z" fill="#fff" stroke="#777" stroke-width="0.7"/>
<path d="M405.3 447.0L408.1 451.8L402.5 451.8Z" fill="#fff" stroke="#777" stroke-width="0.7"/>
<path d="M410.8 446.8L413.6 451.5L407.9 451.5Z" fill="#fff" stroke="#777" stroke-width="0.7"/>
<path d="M416.2 446.5L419.0 451.3L413.4 451.3Z" fill="#fff" stroke="#777" stroke-width="0.7"/>
<path d="M421.7 446.4L424.5 451.1L418.9 451.1Z" fill="#fff" stroke="#777" stroke-width="0.7"/>
<path d="M427.2 446.3L430.0 451.1L424.4 451.1Z" fill="#fff" stroke="#777" stroke-width="0.7"/>
<path d="M432.7 446.3L435.5 451.1L429.9 451.1Z" fill="#fff" stroke="#777" stroke-width="0.7"/>
<path d="M438.2 446.3L441.0 451.0L435.4 451.0Z" fill="#fff" stroke="#777" stroke-width="0.7"/>
<path d="M443.7 446.2L446.5 451.0L440.9 451.0Z" fill="#fff" stroke="#777" stroke-width="0.7"/>
<path d="M449.2 446.2L452.0 451.0L446.4 451.0Z" fill="#fff" stroke="#777" stroke-width="0.7"/>
<path d="M454.7 446.2L457.5 450.9L451.9 450.9Z" fill="#fff" stroke="#777" stroke-width="0.7"/>
<path d="M460.2 446.1L463.0 450.9L457.4 450.9Z" fill="#fff" stroke="#777" stroke-width="0.7"/>
<path d="M465.7 446.1L468.5 450.9L462.9 450.9Z" fill="#fff" stroke="#777" stroke-width="0.7"/>
<path d="M471.2 446.1L474.0 450.8L468.4 450.8Z" fill="#fff" stroke="#777" stroke-width="0.7"/>
<path d="M476.6 446.0L479.4 450.8L473.8 450.8Z" fill="#fff" stroke="#777" stroke-width="0.7"/>
<path d="M482.1 446.0L484.9 450.8L479.3 450.8Z" fill="#fff" stroke="#777" stroke-width="0.7"/>
<path d="M487.6 446.0L490.4 450.7L484.8 450.7Z" fill="#fff" stroke="#777" stroke-width="0.7"/>
<path d="M493.1 445.9L495.9 450.7L490.3 450.7Z" fill="#fff" stroke="#777" stroke-width="0.7"/>
<path d="M498.6 445.9L501.4 450.7L495.8 450.7Z" fill="#fff" stroke="#777" stroke-width="0.7"/>
<path d="M504.1 445.9L506.9 450.6L501.3 450.6Z" fill="#fff" stroke="#777" stroke-width="0.7"/>
<path d="M317.4 450.1L321.1 453.8L317.4 457.5L313.7 453.8Z" fill="#fff" stroke="#555" stroke-width="0.8"/>
<path d="M322.9 448.5L326.6 452.2L322.9 455.9L319.2 452.2Z" fill="#fff" stroke="#555" stroke-width="0.8"/>
<path d="M328.4 448.1L332.1 451.8L328.4 455.5L324.7 451.8Z" fill="#fff" stroke="#555" stroke-width="0.8"/>
<path d="M333.9 448.0L337.6 451.7L333.9 455.4L330.2 451.7Z" fill="#fff" stroke="#555" stroke-width="0.8"/>
<path d="M339.4 447.9L343.1 451.6L339.4 455.3L335.7 451.6Z" fill="#fff" stroke="#555" stroke-width="0.8"/>
<path d="M344.9 447.8L348.6 451.5L344.9 455.2L341.2 451.5Z" fill="#fff" stroke="#555" stroke-width="0.8"/>
<path d="M350.3 447.6L354.0 451.3L350.3 455.0L346.6 451.3Z" fill="#fff" stroke="#555" stroke-width="0.8"/>
<path d="M355.8 447.5L359.5 451.2L355.8 454.9L352.1 451.2Z" fill="#fff" stroke="#555" stroke-width="0.8"/>
<path d="M361.3 447.3L365.0 451.0L361.3 454.7L357.6 451.0Z" fill="#fff" stroke="#555" stroke-width="0.8"/>
<path d="M366.8 446.8L370.5 450.5L366.8 454.2L363.1 450.5Z" fill="#fff" stroke="#555" stroke-width="0.8"/>
<path d="M372.3 446.3L376.0 450.0L372.3 453.7L368.6 450.0Z" fill="#fff" stroke="#555" stroke-width="0.8"/>
<path d="M377.8 445.4L381.5 449.1L377.8 452.8L374.1 449.1Z" fill="#fff" stroke="#555" stroke-width="0.8"/>
<path d="M383.3 444.5L387.0 448.2L383.3 451.9L379.6 448.2Z" fill="#fff" stroke="#555" stroke-width="0.8"/>
<path d="M388.8 443.4L392.5 447.1L388.8 450.8L385.1 447.1Z" fill="#fff" stroke="#555" stroke-width="0.8"/>
<path d="M394.3 442.4L398.0 446.1L394.3 449.8L390.6 446.1Z" fill="#fff" stroke="#555" stroke-width="0.8"/>
<path d="M399.8 441.7L403.5 445.4L399.8 449.1L396.1 445.4Z" fill="#fff" stroke="#555" stroke-width="0.8"/>
<path d="M405.3 440.9L409.0 444.6L405.3 448.3L401.6 444.6Z" fill="#fff" stroke="#555" stroke-width="0.8"/>
<path d="M410.8 440.5L414.4 444.2L410.8 447.9L407.1 444.2Z" fill="#fff" stroke="#555" stroke-width="0.8"/>
<path d="M416.2 440.0L419.9 443.7L416.2 447.4L412.5 443.7Z" fill="#fff" stroke="#555" stroke-width="0.8"/>
<path d="M421.7 439.7L425.4 443.4L421.7 447.1L418.0 443.4Z" fill="#fff" stroke="#555" stroke-width="0.8"/>
<path d="M427.2 439.7L430.9 443.4L427.2 447.1L423.5 443.4Z" fill="#fff" stroke="#555" stroke-width="0.8"/>
<path d="M432.7 439.8L436.4 443.5L432.7 447.2L429.0 443.5Z" fill="#fff" stroke="#555" stroke-width="0.8"/>
<path d="M438.2 439.8L441.9 443.5L438.2 447.2L434.5 443.5Z" fill="#fff" stroke="#555" stroke-width="0.8"/>
<path d="M443.7 439.8L447.4 443.5L443.7 447.2L440.0 443.5Z" fill="#fff" stroke="#555" stroke-width="0.8"/>
<path d="M449.2 439.9L452.9 443.6L449.2 447.3L445.5 443.6Z" fill="#fff" stroke="#555" stroke-width="0.8"/>
<path d="M454.7 439.9L458.4 443.6L454.7 447.3L451.0 443.6Z" fill="#fff" stroke="#555" stroke-width="0.8"/>
<path d="M460.2 440.0L463.9 443.7L460.2 447.4L456.5 443.7Z" fill="#fff" stroke="#555" stroke-width="0.8"/>
<path d="M465.7 440.1L469.4 443.8L465.7 447.5L462.0 443.8Z" fill="#fff" stroke="#555" stroke-width="0.8"/>
<path d="M471.2 440.1L474.9 443.8L471.2 447.5L467.5 443.8Z" fill="#fff" stroke="#555" stroke-width="0.8"/>
<path d="M476.6 440.2L480.3 443.9L476.6 447.6L472.9 443.9Z" fill="#fff" stroke="#555" stroke-width="0.8"/>
<path d="M482.1 440.3L485.8 444.0L482.1 447.7L478.4 444.0Z" fill="#fff" stroke="#555" stroke-width="0.8"/>
<path d="M487.6 440.5L491.3 444.2L487.6 447.9L483.9 444.2Z" fill="#fff" stroke="#555" stroke-width="0.8"/>
<path d="M493.1 440.6L496.8 444.3L493.1 448.0L489.4 444.3Z" fill="#fff" stroke="#555" stroke-width="0.8"/>
<path d="M498.6 440.7L502.3 444.4L498.6 448.1L494.9 444.4Z" fill="#fff" stroke="#555" stroke-width="0.8"/>
<path d="M504.1 440.8L507.8 444.5L504.1 448.2L500.4 444.5Z" fill="#fff" stroke="#555" stroke-width="0.8"/>
<polyline points="317.4,433.0 323.1,433.0 328.6,427.1 333.7,419.7 339.6,407.0 344.9,397.5 350.2,390.0 355.5,381.6 360.8,373.5 366.0,366.7 372.0,363.6 377.7,358.3 383.0,359.3 388.7,357.8 394.2,359.3 400.0,360.4 405.2,362.5 411.0,363.3 415.3,366.4 420.6,370.7 425.9,371.7 431.2,372.8 437.5,371.7 442.8,370.0 448.0,371.7 454.4,373.8 459.7,376.0 465.0,378.0 470.3,381.3 475.6,383.4 482.0,385.5 487.2,387.6 492.5,389.7 497.8,391.8 504.1,394.6" fill="none" stroke="#777" stroke-width="1.2" />
<polyline points="317.4,441.9 323.1,442.4 328.6,433.0 333.7,422.9 339.6,412.3 344.9,398.6 350.2,378.4 355.5,364.6 360.8,349.8 366.0,337.1 372.0,326.1 377.7,316.0 383.0,307.5 388.7,303.7 394.2,298.0 400.0,297.0 405.2,300.7 411.0,303.3 416.3,307.5 421.6,311.7 427.0,317.0 432.2,321.3 437.5,321.3 443.4,324.4 449.1,322.3 454.4,326.5 459.7,330.8 465.4,335.0 470.9,336.7 476.6,339.2 481.9,341.3 487.2,343.5 492.9,347.3 498.9,348.8 504.1,352.0" fill="none" stroke="#000" stroke-width="1.3" />
<path d="M317.4 432.0V430.4M315.2 430.4H319.6" stroke="#888" stroke-width="0.9" fill="none"/>
<path d="M323.1 432.0V429.7M320.9 429.7H325.3" stroke="#888" stroke-width="0.9" fill="none"/>
<path d="M328.6 426.1V423.0M326.4 423.0H330.8" stroke="#888" stroke-width="0.9" fill="none"/>
<path d="M333.7 418.7V414.9M331.5 414.9H335.9" stroke="#888" stroke-width="0.9" fill="none"/>
<path d="M339.6 406.0V401.8M337.4 401.8H341.8" stroke="#888" stroke-width="0.9" fill="none"/>
<path d="M344.9 396.5V392.1M342.7 392.1H347.1" stroke="#888" stroke-width="0.9" fill="none"/>
<path d="M350.2 389.0V384.4M348.0 384.4H352.4" stroke="#888" stroke-width="0.9" fill="none"/>
<path d="M355.5 380.6V375.8M353.3 375.8H357.7" stroke="#888" stroke-width="0.9" fill="none"/>
<path d="M360.8 372.5V367.6M358.6 367.6H363.0" stroke="#888" stroke-width="0.9" fill="none"/>
<path d="M366.0 365.7V361.3M363.8 361.3H368.2" stroke="#888" stroke-width="0.9" fill="none"/>
<path d="M372.0 362.6V358.8M369.8 358.8H374.2" stroke="#888" stroke-width="0.9" fill="none"/>
<path d="M377.7 357.3V354.1M375.5 354.1H379.9" stroke="#888" stroke-width="0.9" fill="none"/>
<path d="M383.0 358.3V355.3M380.8 355.3H385.2" stroke="#888" stroke-width="0.9" fill="none"/>
<path d="M388.7 356.8V353.8M386.5 353.8H390.9" stroke="#888" stroke-width="0.9" fill="none"/>
<path d="M394.2 358.3V355.3M392.0 355.3H396.4" stroke="#888" stroke-width="0.9" fill="none"/>
<path d="M400.0 359.4V356.4M397.8 356.4H402.2" stroke="#888" stroke-width="0.9" fill="none"/>
<path d="M405.2 361.5V358.5M403.0 358.5H407.4" stroke="#888" stroke-width="0.9" fill="none"/>
<path d="M411.0 362.3V359.3M408.8 359.3H413.2" stroke="#888" stroke-width="0.9" fill="none"/>
<path d="M415.3 365.4V362.4M413.1 362.4H417.5" stroke="#888" stroke-width="0.9" fill="none"/>
<path d="M420.6 369.7V366.7M418.4 366.7H422.8" stroke="#888" stroke-width="0.9" fill="none"/>
<path d="M425.9 370.7V367.4M423.7 367.4H428.1" stroke="#888" stroke-width="0.9" fill="none"/>
<path d="M431.2 371.8V368.2M429.0 368.2H433.4" stroke="#888" stroke-width="0.9" fill="none"/>
<path d="M437.5 370.7V366.8M435.3 366.8H439.7" stroke="#888" stroke-width="0.9" fill="none"/>
<path d="M442.8 369.0V364.9M440.6 364.9H445.0" stroke="#888" stroke-width="0.9" fill="none"/>
<path d="M448.0 370.7V366.4M445.8 366.4H450.2" stroke="#888" stroke-width="0.9" fill="none"/>
<path d="M454.4 372.8V368.3M452.2 368.3H456.6" stroke="#888" stroke-width="0.9" fill="none"/>
<path d="M459.7 375.0V370.3M457.5 370.3H461.9" stroke="#888" stroke-width="0.9" fill="none"/>
<path d="M465.0 377.0V372.2M462.8 372.2H467.2" stroke="#888" stroke-width="0.9" fill="none"/>
<path d="M470.3 380.3V375.3M468.1 375.3H472.5" stroke="#888" stroke-width="0.9" fill="none"/>
<path d="M475.6 382.4V377.9M473.4 377.9H477.8" stroke="#888" stroke-width="0.9" fill="none"/>
<path d="M482.0 384.5V380.5M479.8 380.5H484.2" stroke="#888" stroke-width="0.9" fill="none"/>
<path d="M487.2 386.6V383.1M485.0 383.1H489.4" stroke="#888" stroke-width="0.9" fill="none"/>
<path d="M492.5 388.7V385.6M490.3 385.6H494.7" stroke="#888" stroke-width="0.9" fill="none"/>
<path d="M497.8 390.8V388.2M495.6 388.2H500.0" stroke="#888" stroke-width="0.9" fill="none"/>
<path d="M504.1 393.6V391.5M501.9 391.5H506.3" stroke="#888" stroke-width="0.9" fill="none"/>
<path d="M317.4 429.4L321.3 436.0L313.5 436.0Z" fill="#808080" stroke="#6a6a6a" stroke-width="0.6"/>
<path d="M323.1 429.4L327.0 436.0L319.2 436.0Z" fill="#808080" stroke="#6a6a6a" stroke-width="0.6"/>
<path d="M328.6 423.5L332.5 430.1L324.7 430.1Z" fill="#808080" stroke="#6a6a6a" stroke-width="0.6"/>
<path d="M333.7 416.1L337.6 422.7L329.8 422.7Z" fill="#808080" stroke="#6a6a6a" stroke-width="0.6"/>
<path d="M339.6 403.4L343.5 410.0L335.7 410.0Z" fill="#808080" stroke="#6a6a6a" stroke-width="0.6"/>
<path d="M344.9 393.9L348.8 400.5L341.0 400.5Z" fill="#808080" stroke="#6a6a6a" stroke-width="0.6"/>
<path d="M350.2 386.4L354.1 393.0L346.3 393.0Z" fill="#808080" stroke="#6a6a6a" stroke-width="0.6"/>
<path d="M355.5 378.0L359.4 384.6L351.6 384.6Z" fill="#808080" stroke="#6a6a6a" stroke-width="0.6"/>
<path d="M360.8 369.9L364.7 376.5L356.9 376.5Z" fill="#808080" stroke="#6a6a6a" stroke-width="0.6"/>
<path d="M366.0 363.1L369.9 369.7L362.1 369.7Z" fill="#808080" stroke="#6a6a6a" stroke-width="0.6"/>
<path d="M372.0 360.0L375.9 366.6L368.1 366.6Z" fill="#808080" stroke="#6a6a6a" stroke-width="0.6"/>
<path d="M377.7 354.7L381.6 361.3L373.8 361.3Z" fill="#808080" stroke="#6a6a6a" stroke-width="0.6"/>
<path d="M383.0 355.7L386.9 362.3L379.1 362.3Z" fill="#808080" stroke="#6a6a6a" stroke-width="0.6"/>
<path d="M388.7 354.2L392.6 360.8L384.8 360.8Z" fill="#808080" stroke="#6a6a6a" stroke-width="0.6"/>
<path d="M394.2 355.7L398.1 362.3L390.3 362.3Z" fill="#808080" stroke="#6a6a6a" stroke-width="0.6"/>
<path d="M400.0 356.8L403.9 363.4L396.1 363.4Z" fill="#808080" stroke="#6a6a6a" stroke-width="0.6"/>
<path d="M405.2 358.9L409.1 365.5L401.3 365.5Z" fill="#808080" stroke="#6a6a6a" stroke-width="0.6"/>
<path d="M411.0 359.7L414.9 366.3L407.1 366.3Z" fill="#808080" stroke="#6a6a6a" stroke-width="0.6"/>
<path d="M415.3 362.8L419.2 369.4L411.4 369.4Z" fill="#808080" stroke="#6a6a6a" stroke-width="0.6"/>
<path d="M420.6 367.1L424.5 373.7L416.7 373.7Z" fill="#808080" stroke="#6a6a6a" stroke-width="0.6"/>
<path d="M425.9 368.1L429.8 374.7L422.0 374.7Z" fill="#808080" stroke="#6a6a6a" stroke-width="0.6"/>
<path d="M431.2 369.2L435.1 375.8L427.3 375.8Z" fill="#808080" stroke="#6a6a6a" stroke-width="0.6"/>
<path d="M437.5 368.1L441.4 374.7L433.6 374.7Z" fill="#808080" stroke="#6a6a6a" stroke-width="0.6"/>
<path d="M442.8 366.4L446.7 373.0L438.9 373.0Z" fill="#808080" stroke="#6a6a6a" stroke-width="0.6"/>
<path d="M448.0 368.1L451.9 374.7L444.1 374.7Z" fill="#808080" stroke="#6a6a6a" stroke-width="0.6"/>
<path d="M454.4 370.2L458.3 376.8L450.5 376.8Z" fill="#808080" stroke="#6a6a6a" stroke-width="0.6"/>
<path d="M459.7 372.4L463.6 379.0L455.8 379.0Z" fill="#808080" stroke="#6a6a6a" stroke-width="0.6"/>
<path d="M465.0 374.4L468.9 381.0L461.1 381.0Z" fill="#808080" stroke="#6a6a6a" stroke-width="0.6"/>
<path d="M470.3 377.7L474.2 384.3L466.4 384.3Z" fill="#808080" stroke="#6a6a6a" stroke-width="0.6"/>
<path d="M475.6 379.8L479.5 386.4L471.7 386.4Z" fill="#808080" stroke="#6a6a6a" stroke-width="0.6"/>
<path d="M482.0 381.9L485.9 388.5L478.1 388.5Z" fill="#808080" stroke="#6a6a6a" stroke-width="0.6"/>
<path d="M487.2 384.0L491.1 390.6L483.3 390.6Z" fill="#808080" stroke="#6a6a6a" stroke-width="0.6"/>
<path d="M492.5 386.1L496.4 392.7L488.6 392.7Z" fill="#808080" stroke="#6a6a6a" stroke-width="0.6"/>
<path d="M497.8 388.2L501.7 394.8L493.9 394.8Z" fill="#808080" stroke="#6a6a6a" stroke-width="0.6"/>
<path d="M504.1 391.0L508.0 397.6L500.2 397.6Z" fill="#808080" stroke="#6a6a6a" stroke-width="0.6"/>
<path d="M317.4 440.9V438.9M315.2 438.9H319.6" stroke="#777" stroke-width="0.9" fill="none"/>
<path d="M323.1 441.4V439.4M320.9 439.4H325.3" stroke="#777" stroke-width="0.9" fill="none"/>
<path d="M328.6 432.0V430.0M326.4 430.0H330.8" stroke="#777" stroke-width="0.9" fill="none"/>
<path d="M333.7 421.9V419.9M331.5 419.9H335.9" stroke="#777" stroke-width="0.9" fill="none"/>
<path d="M339.6 411.3V409.3M337.4 409.3H341.8" stroke="#777" stroke-width="0.9" fill="none"/>
<path d="M344.9 397.6V394.6M342.7 394.6H347.1" stroke="#777" stroke-width="0.9" fill="none"/>
<path d="M350.2 377.4V367.8M348.0 367.8H352.4" stroke="#777" stroke-width="0.9" fill="none"/>
<path d="M355.5 363.6V352.0M353.3 352.0H357.7" stroke="#777" stroke-width="0.9" fill="none"/>
<path d="M360.8 348.8V340.3M358.6 340.3H363.0" stroke="#777" stroke-width="0.9" fill="none"/>
<path d="M366.0 336.1V324.5M363.8 324.5H368.2" stroke="#777" stroke-width="0.9" fill="none"/>
<path d="M372.0 325.1V314.1M369.8 314.1H374.2" stroke="#777" stroke-width="0.9" fill="none"/>
<path d="M377.7 315.0V305.4M375.5 305.4H379.9" stroke="#777" stroke-width="0.9" fill="none"/>
<path d="M383.0 306.5V297.0M380.8 297.0H385.2" stroke="#777" stroke-width="0.9" fill="none"/>
<path d="M388.7 302.7V296.0M386.5 296.0H390.9" stroke="#777" stroke-width="0.9" fill="none"/>
<path d="M394.2 297.0V293.0M392.0 293.0H396.4" stroke="#777" stroke-width="0.9" fill="none"/>
<path d="M400.0 296.0V292.0M397.8 292.0H402.2" stroke="#777" stroke-width="0.9" fill="none"/>
<path d="M405.2 299.7V294.7M403.0 294.7H407.4" stroke="#777" stroke-width="0.9" fill="none"/>
<path d="M411.0 302.3V298.8M408.8 298.8H413.2" stroke="#777" stroke-width="0.9" fill="none"/>
<path d="M416.3 306.5V303.0M414.1 303.0H418.5" stroke="#777" stroke-width="0.9" fill="none"/>
<path d="M421.6 310.7V306.7M419.4 306.7H423.8" stroke="#777" stroke-width="0.9" fill="none"/>
<path d="M427.0 316.0V310.0M424.8 310.0H429.2" stroke="#777" stroke-width="0.9" fill="none"/>
<path d="M432.2 320.3V316.3M430.0 316.3H434.4" stroke="#777" stroke-width="0.9" fill="none"/>
<path d="M437.5 320.3V316.3M435.3 316.3H439.7" stroke="#777" stroke-width="0.9" fill="none"/>
<path d="M443.4 323.4V316.0M441.2 316.0H445.6" stroke="#777" stroke-width="0.9" fill="none"/>
<path d="M449.1 321.3V318.3M446.9 318.3H451.3" stroke="#777" stroke-width="0.9" fill="none"/>
<path d="M454.4 325.5V321.5M452.2 321.5H456.6" stroke="#777" stroke-width="0.9" fill="none"/>
<path d="M459.7 329.8V324.8M457.5 324.8H461.9" stroke="#777" stroke-width="0.9" fill="none"/>
<path d="M465.4 334.0V326.6M463.2 326.6H467.6" stroke="#777" stroke-width="0.9" fill="none"/>
<path d="M470.9 335.7V326.7M468.7 326.7H473.1" stroke="#777" stroke-width="0.9" fill="none"/>
<path d="M476.6 338.2V335.2M474.4 335.2H478.8" stroke="#777" stroke-width="0.9" fill="none"/>
<path d="M481.9 340.3V337.3M479.7 337.3H484.1" stroke="#777" stroke-width="0.9" fill="none"/>
<path d="M487.2 342.5V340.5M485.0 340.5H489.4" stroke="#777" stroke-width="0.9" fill="none"/>
<path d="M492.9 346.3V344.3M490.7 344.3H495.1" stroke="#777" stroke-width="0.9" fill="none"/>
<path d="M498.9 347.8V345.8M496.7 345.8H501.1" stroke="#777" stroke-width="0.9" fill="none"/>
<path d="M504.1 351.0V349.0M501.9 349.0H506.3" stroke="#777" stroke-width="0.9" fill="none"/>
<path d="M317.4 437.9L321.4 441.9L317.4 445.9L313.4 441.9Z" fill="#2b2b2b" stroke="#111" stroke-width="0.6"/>
<path d="M323.1 438.4L327.1 442.4L323.1 446.4L319.1 442.4Z" fill="#2b2b2b" stroke="#111" stroke-width="0.6"/>
<path d="M328.6 429.0L332.6 433.0L328.6 437.0L324.6 433.0Z" fill="#2b2b2b" stroke="#111" stroke-width="0.6"/>
<path d="M333.7 418.9L337.7 422.9L333.7 426.9L329.7 422.9Z" fill="#2b2b2b" stroke="#111" stroke-width="0.6"/>
<path d="M339.6 408.3L343.6 412.3L339.6 416.3L335.6 412.3Z" fill="#2b2b2b" stroke="#111" stroke-width="0.6"/>
<path d="M344.9 394.6L348.9 398.6L344.9 402.6L340.9 398.6Z" fill="#2b2b2b" stroke="#111" stroke-width="0.6"/>
<path d="M350.2 374.4L354.2 378.4L350.2 382.4L346.2 378.4Z" fill="#2b2b2b" stroke="#111" stroke-width="0.6"/>
<path d="M355.5 360.6L359.5 364.6L355.5 368.6L351.5 364.6Z" fill="#2b2b2b" stroke="#111" stroke-width="0.6"/>
<path d="M360.8 345.8L364.8 349.8L360.8 353.8L356.8 349.8Z" fill="#2b2b2b" stroke="#111" stroke-width="0.6"/>
<path d="M366.0 333.1L370.0 337.1L366.0 341.1L362.0 337.1Z" fill="#2b2b2b" stroke="#111" stroke-width="0.6"/>
<path d="M372.0 322.1L376.0 326.1L372.0 330.1L368.0 326.1Z" fill="#2b2b2b" stroke="#111" stroke-width="0.6"/>
<path d="M377.7 312.0L381.7 316.0L377.7 320.0L373.7 316.0Z" fill="#2b2b2b" stroke="#111" stroke-width="0.6"/>
<path d="M383.0 303.5L387.0 307.5L383.0 311.5L379.0 307.5Z" fill="#2b2b2b" stroke="#111" stroke-width="0.6"/>
<path d="M388.7 299.7L392.7 303.7L388.7 307.7L384.7 303.7Z" fill="#2b2b2b" stroke="#111" stroke-width="0.6"/>
<path d="M394.2 294.0L398.2 298.0L394.2 302.0L390.2 298.0Z" fill="#2b2b2b" stroke="#111" stroke-width="0.6"/>
<path d="M400.0 293.0L404.0 297.0L400.0 301.0L396.0 297.0Z" fill="#2b2b2b" stroke="#111" stroke-width="0.6"/>
<path d="M405.2 296.7L409.2 300.7L405.2 304.7L401.2 300.7Z" fill="#2b2b2b" stroke="#111" stroke-width="0.6"/>
<path d="M411.0 299.3L415.0 303.3L411.0 307.3L407.0 303.3Z" fill="#2b2b2b" stroke="#111" stroke-width="0.6"/>
<path d="M416.3 303.5L420.3 307.5L416.3 311.5L412.3 307.5Z" fill="#2b2b2b" stroke="#111" stroke-width="0.6"/>
<path d="M421.6 307.7L425.6 311.7L421.6 315.7L417.6 311.7Z" fill="#2b2b2b" stroke="#111" stroke-width="0.6"/>
<path d="M427.0 313.0L431.0 317.0L427.0 321.0L423.0 317.0Z" fill="#2b2b2b" stroke="#111" stroke-width="0.6"/>
<path d="M432.2 317.3L436.2 321.3L432.2 325.3L428.2 321.3Z" fill="#2b2b2b" stroke="#111" stroke-width="0.6"/>
<path d="M437.5 317.3L441.5 321.3L437.5 325.3L433.5 321.3Z" fill="#2b2b2b" stroke="#111" stroke-width="0.6"/>
<path d="M443.4 320.4L447.4 324.4L443.4 328.4L439.4 324.4Z" fill="#2b2b2b" stroke="#111" stroke-width="0.6"/>
<path d="M449.1 318.3L453.1 322.3L449.1 326.3L445.1 322.3Z" fill="#2b2b2b" stroke="#111" stroke-width="0.6"/>
<path d="M454.4 322.5L458.4 326.5L454.4 330.5L450.4 326.5Z" fill="#2b2b2b" stroke="#111" stroke-width="0.6"/>
<path d="M459.7 326.8L463.7 330.8L459.7 334.8L455.7 330.8Z" fill="#2b2b2b" stroke="#111" stroke-width="0.6"/>
<path d="M465.4 331.0L469.4 335.0L465.4 339.0L461.4 335.0Z" fill="#2b2b2b" stroke="#111" stroke-width="0.6"/>
<path d="M470.9 332.7L474.9 336.7L470.9 340.7L466.9 336.7Z" fill="#2b2b2b" stroke="#111" stroke-width="0.6"/>
<path d="M476.6 335.2L480.6 339.2L476.6 343.2L472.6 339.2Z" fill="#2b2b2b" stroke="#111" stroke-width="0.6"/>
<path d="M481.9 337.3L485.9 341.3L481.9 345.3L477.9 341.3Z" fill="#2b2b2b" stroke="#111" stroke-width="0.6"/>
<path d="M487.2 339.5L491.2 343.5L487.2 347.5L483.2 343.5Z" fill="#2b2b2b" stroke="#111" stroke-width="0.6"/>
<path d="M492.9 343.3L496.9 347.3L492.9 351.3L488.9 347.3Z" fill="#2b2b2b" stroke="#111" stroke-width="0.6"/>
<path d="M498.9 344.8L502.9 348.8L498.9 352.8L494.9 348.8Z" fill="#2b2b2b" stroke="#111" stroke-width="0.6"/>
<path d="M504.1 348.0L508.1 352.0L504.1 356.0L500.1 352.0Z" fill="#2b2b2b" stroke="#111" stroke-width="0.6"/>
<text x="0.8" y="542.2" font-family="Liberation Sans" font-size="25" font-weight="bold" font-style="normal" text-anchor="start" >C</text>
<path d="M66.8 560.6V712.6" stroke="#000" stroke-width="1.1"/>
<path d="M62 709.5H322.5V712.9" stroke="#000" stroke-width="1.1" fill="none"/>
<path d="M194.3 709.5V712.2" stroke="#000" stroke-width="1.1"/>
<path d="M62.3 560.6H66.8" stroke="#000" stroke-width="1.1"/>
<text x="55" y="564.0" font-family="Liberation Serif" font-size="9.2" font-weight="bold" text-anchor="end" transform="translate(55 0) scale(1.35 1) translate(-55 0)">120</text>
<path d="M62.3 597.8H66.8" stroke="#000" stroke-width="1.1"/>
<text x="55" y="601.2" font-family="Liberation Serif" font-size="9.2" font-weight="bold" text-anchor="end" transform="translate(55 0) scale(1.35 1) translate(-55 0)">90</text>
<path d="M62.3 635.1H66.8" stroke="#000" stroke-width="1.1"/>
<text x="55" y="638.5" font-family="Liberation Serif" font-size="9.2" font-weight="bold" text-anchor="end" transform="translate(55 0) scale(1.35 1) translate(-55 0)">60</text>
<path d="M62.3 672.3H66.8" stroke="#000" stroke-width="1.1"/>
<text x="55" y="675.7" font-family="Liberation Serif" font-size="9.2" font-weight="bold" text-anchor="end" transform="translate(55 0) scale(1.35 1) translate(-55 0)">30</text>
<path d="M62.3 709.5H66.8" stroke="#000" stroke-width="1.1"/>
<text x="55" y="712.9" font-family="Liberation Serif" font-size="9.2" font-weight="bold" text-anchor="end" transform="translate(55 0) scale(1.35 1) translate(-55 0)">0</text>
<text transform="translate(18.3,677.2) rotate(-90)" font-family="Liberation Serif" font-size="13.6" font-weight="bold" textLength="96" lengthAdjust="spacingAndGlyphs">ROS Production</text>
<text transform="translate(32.3,680.6) rotate(-90)" font-family="Liberation Serif" font-size="13.4" font-weight="bold" textLength="100" lengthAdjust="spacingAndGlyphs">(%WT Response)</text>
<text x="81.5" y="566.7" font-family="Liberation Sans" font-size="19.5" font-weight="bold" font-style="normal" text-anchor="start" >i</text>
<path d="M95.5 584.5V581.3M93.2 581.3H97.8" stroke="#444" stroke-width="0.9"/><rect x="83.8" y="584.5" width="23.400000000000006" height="125.0" fill="#333" stroke="#222" stroke-width="0.9"/>
<path d="M119.1 645.9V642.3M116.8 642.3H121.39999999999999" stroke="#444" stroke-width="0.9"/><rect x="107.2" y="645.9" width="23.799999999999997" height="63.60000000000002" fill="#888" stroke="#222" stroke-width="0.9"/>
<rect x="131" y="673" width="22.5" height="36.5" fill="#c8c8c8" stroke="#222" stroke-width="0.9"/>
<path d="M165.55 671.9V670.1999999999999M163.25 670.1999999999999H167.85000000000002" stroke="#444" stroke-width="0.9"/><rect x="153.7" y="671.9" width="23.700000000000017" height="37.60000000000002" fill="#fff" stroke="#222" stroke-width="0.9"/>
<path d="M223.25 584.8V583.1999999999999M220.95 583.1999999999999H225.55" stroke="#444" stroke-width="0.9"/><rect x="211.7" y="584.8" width="23.100000000000023" height="124.70000000000005" fill="#333" stroke="#222" stroke-width="0.9"/>
<path d="M246.8 625.3V623.5M244.5 623.5H249.10000000000002" stroke="#444" stroke-width="0.9"/><rect x="234.8" y="625.3" width="24.0" height="84.20000000000005" fill="#888" stroke="#222" stroke-width="0.9"/>
<path d="M270.1 703.5V702.2M267.8 702.2H272.40000000000003" stroke="#444" stroke-width="0.9"/><rect x="258.8" y="703.5" width="22.599999999999966" height="6.0" fill="#c8c8c8" stroke="#222" stroke-width="0.9"/>
<path d="M293.2 702.7V701.9000000000001M290.9 701.9000000000001H295.5" stroke="#444" stroke-width="0.9"/><rect x="281.4" y="702.7" width="23.600000000000023" height="6.7999999999999545" fill="#fff" stroke="#222" stroke-width="0.9"/>
<text x="132.5" y="728.6" font-family="Liberation Serif" font-size="14" font-weight="bold" font-style="italic" text-anchor="middle" letter-spacing="0.7">S.aureus</text>
<text x="259.5" y="729" font-family="Liberation Serif" font-size="14" font-weight="bold" font-style="italic" text-anchor="middle" letter-spacing="0.9">E.coli</text>
<rect x="267.3" y="575.3" width="112" height="107.2" fill="#fff" stroke="#555" stroke-width="1"/>
<rect x="273.5" y="581.3" width="10.8" height="9.3" fill="#333" stroke="#555" stroke-width="0.9"/>
<rect x="273.5" y="610" width="10.8" height="9.3" fill="#888" stroke="#555" stroke-width="0.9"/>
<rect x="273.5" y="638.6" width="10.8" height="9.3" fill="#c8c8c8" stroke="#555" stroke-width="0.9"/>
<rect x="273.5" y="666.8" width="10.8" height="9.3" fill="#fff" stroke="#555" stroke-width="0.9"/>
<text x="291.6" y="589.6" font-family="Liberation Serif" font-size="11.5" font-weight="bold">p40<tspan font-size="7.3" font-style="normal" dy="-4" dx="0.3">+/+</tspan><tspan dy="4" dx="0"></tspan></text>
<text x="291.6" y="618.2" font-family="Liberation Serif" font-size="11.5" font-weight="bold">p40<tspan font-size="7.7" font-style="italic" dy="-4" dx="0.3">R58A/R58A</tspan><tspan dy="4" dx="0"></tspan></text>
<text x="291.6" y="647" font-family="Liberation Serif" font-size="11.5" font-weight="bold">p40<tspan font-size="7.3" font-style="normal" dy="-4" dx="0.3">+/+</tspan><tspan dy="4" dx="5">Wort</tspan></text>
<text x="291.6" y="675.8" font-family="Liberation Serif" font-size="11.5" font-weight="bold">p40<tspan font-size="7.7" font-style="italic" dy="-4" dx="0.3">R58A/R58A</tspan><tspan dy="4" dx="1.5">Wort</tspan></text>
<path d="M418 557.7V707.7H499" stroke="#000" stroke-width="1.1" fill="none"/>
<path d="M414.5 557.7H418" stroke="#000" stroke-width="1.1"/>
<text x="412.5" y="561.9" font-family="Liberation Serif" font-size="12.5" font-weight="bold" text-anchor="end">120</text>
<path d="M414.5 595.2H418" stroke="#000" stroke-width="1.1"/>
<text x="412.5" y="599.4" font-family="Liberation Serif" font-size="12.5" font-weight="bold" text-anchor="end">90</text>
<path d="M414.5 632.7H418" stroke="#000" stroke-width="1.1"/>
<text x="412.5" y="636.9" font-family="Liberation Serif" font-size="12.5" font-weight="bold" text-anchor="end">60</text>
<path d="M414.5 670.2H418" stroke="#000" stroke-width="1.1"/>
<text x="412.5" y="674.4" font-family="Liberation Serif" font-size="12.5" font-weight="bold" text-anchor="end">30</text>
<text x="429" y="564" font-family="Liberation Sans" font-size="19.5" font-weight="bold" font-style="normal" text-anchor="start" >ii</text>
<text x="451.8" y="560.8" font-family="Liberation Serif" font-size="13.5" font-weight="bold" textLength="33.8" lengthAdjust="spacingAndGlyphs">fMLP</text>
<path d="M439 582.3V578.1M437 578.1H441" stroke="#555" stroke-width="0.8"/>
<rect x="426.6" y="582.3" width="25" height="125.4" fill="#333" stroke="#222" stroke-width="0.9"/>
<path d="M479 600.7V592.4M477 592.4H481" stroke="#555" stroke-width="0.8"/>
<rect x="466.4" y="600.7" width="25.4" height="107.0" fill="#888" stroke="#222" stroke-width="0.9"/>
<text x="423.6" y="724.3" font-family="Liberation Serif" font-size="11.5" font-weight="bold">p40<tspan font-size="7.3" font-style="normal" dy="-3" dx="0.3">+/+</tspan><tspan dy="3" dx="0"></tspan></text>
<text x="463" y="724.3" font-family="Liberation Serif" font-size="11.5" font-weight="bold">p40<tspan font-size="7.3" font-style="italic" dy="-3" dx="0.3">R58A/R58A</tspan><tspan dy="3" dx="0"></tspan></text>
</svg>
</body></html>
